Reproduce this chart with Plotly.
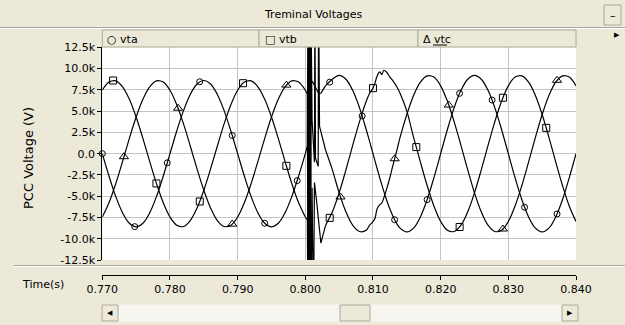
import plotly.graph_objects as go

W, H = 625, 325
X0, X1 = 102.3, 576.0     # plot area (px)
Y0, Y1 = 47.3, 260.0

def fx(x):
    return x / W

def fy(y):
    return 1 - y / H

# ---------------- data (kV) ----------------
t_pre = [0.770, 0.771, 0.772, 0.773, 0.774, 0.775, 0.776, 0.777, 0.778, 0.779,
         0.780, 0.781, 0.782, 0.783, 0.784, 0.785, 0.786, 0.787, 0.788, 0.789,
         0.790, 0.791, 0.792, 0.793, 0.794, 0.795, 0.796, 0.797, 0.798, 0.799, 0.800]
vta_pre = [0.0, -2.66, -5.06, -6.96, -8.18, -8.6, -8.18, -6.96, -5.06, -2.66,
           0.0, 2.66, 5.06, 6.96, 8.18, 8.6, 8.18, 6.96, 5.06, 2.66,
           0.0, -2.66, -5.06, -6.96, -8.18, -8.6, -8.18, -6.96, -5.06, -2.66, 0.0]
vtb_pre = [7.45, 8.41, 8.56, 7.86, 6.39, 4.30, 1.79, -0.90, -3.50, -5.75,
           -7.45, -8.41, -8.56, -7.86, -6.39, -4.30, -1.79, 0.90, 3.50, 5.75,
           7.45, 8.41, 8.56, 7.86, 6.39, 4.30, 1.79, -0.90, -3.50, -5.75, -7.45]
vtc_pre = [-7.45, -5.75, -3.50, -0.90, 1.79, 4.30, 6.39, 7.86, 8.56, 8.41,
           7.45, 5.75, 3.50, 0.90, -1.79, -4.30, -6.39, -7.86, -8.56, -8.41,
           -7.45, -5.75, -3.50, -0.90, 1.79, 4.30, 6.39, 7.86, 8.56, 8.41, 7.45]

t_tr = [0.8000, 0.8003, 0.8004, 0.8005, 0.8006, 0.8007, 0.8008, 0.80088, 0.8010, 0.8012,
        0.80135, 0.80142, 0.8015, 0.8017, 0.8019, 0.80196, 0.8021, 0.8023, 0.8026, 0.8030]
vta_tr = [0.0, 0.9, 20.0, -20.0, 20.0, -20.0, 20.0, 8.6, 8.5, 8.3,
          8.0, 7.9, 7.8, 7.5, 7.2, 7.1, 7.1, 7.1, 7.5, 8.0]
vtb_tr = [-7.45, -7.8, -20.0, 20.0, -20.0, 20.0, -20.0, -14.0, -4.0, -20.0,
          -3.4, -3.8, -4.2, -5.8, -7.4, -7.9, -9.2, -10.5, -9.6, -8.41]
vtc_tr = [7.45, 7.0, -20.0, 20.0, -20.0, 20.0, -20.0, 14.0, 4.0, 0.5,
          -1.0, 20.0, -0.5, -1.0, -1.5, 20.0, 3.2, 2.6, 1.7, 0.4]

t_post = [0.803, 0.804, 0.805, 0.806, 0.807, 0.808, 0.809, 0.8095, 0.8100, 0.8103,
          0.8106, 0.8110, 0.8113, 0.8116, 0.8120, 0.8125, 0.8130, 0.8135, 0.814, 0.815,
          0.816, 0.817, 0.818, 0.819, 0.820, 0.821, 0.822, 0.823, 0.824, 0.825,
          0.826, 0.827, 0.828, 0.829, 0.830, 0.831, 0.832, 0.833, 0.834, 0.835,
          0.836, 0.837, 0.838, 0.839, 0.840]
vta_post = [8.0, 8.75, 9.2, 8.75, 7.44, 5.41, 2.84, 1.44, 0.0, -0.87,
            -1.72, -2.84, -3.65, -4.43, -5.41, -6.51, -7.44, -8.20, -8.75, -9.2,
            -8.75, -7.44, -5.41, -2.84, 0.0, 2.84, 5.41, 7.44, 8.75, 9.2,
            8.75, 7.44, 5.41, 2.84, 0.0, -2.84, -5.41, -7.44, -8.75, -9.2,
            -8.75, -7.44, -5.41, -2.84, 0.0]
vtb_post = [-8.41, -6.84, -4.60, -1.91, 0.97, 3.74, 6.15, 7.1, 7.7, 8.3,
            9.1, 9.6, 9.3, 9.8, 9.6, 9.0, 8.5, 7.9, 7.1, 5.0,
            1.91, -0.97, -3.74, -6.15, -7.97, -9.00, -9.15, -8.41, -6.84, -4.60,
            -1.91, 0.97, 3.74, 6.15, 7.97, 9.00, 9.15, 8.41, 6.84, 4.60,
            1.91, -0.97, -3.74, -6.15, -7.97]
vtc_post = [0.4, -1.91, -4.60, -6.84, -8.41, -9.15, -9.00, -8.4, -8.0, -7.6,
            -6.5, -6.0, -5.8, -5.2, -4.2, -2.8, -1.2, 0.3, 1.91, 4.60,
            6.84, 8.41, 9.15, 9.00, 7.97, 6.15, 3.74, 0.97, -1.91, -4.60,
            -6.84, -8.41, -9.15, -9.00, -7.97, -6.15, -3.74, -0.97, 1.91, 4.60,
            6.84, 8.41, 9.15, 9.00, 7.97]

# marker positions
mk_a_t = [0.770, 0.7748, 0.7796, 0.7844, 0.7892, 0.7940, 0.7988, 0.8036, 0.8084,
          0.8132, 0.8180, 0.8228, 0.8276, 0.8324, 0.8372]
mk_a_v = [0.0, -8.58, -1.08, 8.45, 2.14, -8.18, -3.17, 8.4, 4.43,
          -7.77, -5.41, 7.09, 6.30, -6.30, -7.09]
mk_b_t = [0.7716, 0.7780, 0.7844, 0.7908, 0.7972, 0.8036, 0.8100, 0.8164, 0.8228,
          0.8292, 0.8356]
mk_b_v = [8.6, -3.50, -5.62, 8.28, -1.43, -7.55, 7.7, 0.77, -8.62, 6.57, 3.03]
mk_c_t = [0.7732, 0.7812, 0.7892, 0.7972, 0.8052, 0.8132, 0.8212, 0.8292, 0.8372]
mk_c_v = [-0.36, 5.34, -8.28, 8.06, -5.09, -0.6, 5.71, -8.86, 8.62]

time_ticks = [0.770, 0.780, 0.790, 0.800, 0.810, 0.820, 0.830, 0.840]
time_labels = ["0.770", "0.780", "0.790", "0.800", "0.810", "0.820", "0.830", "0.840"]
v_ticks = [12.5, 10.0, 7.5, 5.0, 2.5, 0.0, -2.5, -5.0, -7.5, -10.0, -12.5]
v_labels = ["12.5k", "10.0k", "7.5k", "5.0k", "2.5k", "0.0", "-2.5k", "-5.0k",
            "-7.5k", "-10.0k", "-12.5k"]

series = [
    ("vta", vta_pre, vta_tr, vta_post, mk_a_t, mk_a_v, "circle-open", 6),
    ("vtb", vtb_pre, vtb_tr, vtb_post, mk_b_t, mk_b_v, "square-open", 7),
    ("vtc", vtc_pre, vtc_tr, vtc_post, mk_c_t, mk_c_v, "triangle-up-open", 8),
]

LINE = dict(color="black", width=1.2)
fig = go.Figure()
for name, pre, tr, post, mt, mv, sym, sz in series:
    fig.add_trace(go.Scatter(x=t_pre, y=pre, mode="lines", line=dict(LINE, shape="spline"),
                             name=name, hoverinfo="skip"))
    fig.add_trace(go.Scatter(x=t_tr, y=tr, mode="lines", line=dict(LINE, shape="linear"),
                             name=name, hoverinfo="skip"))
    fig.add_trace(go.Scatter(x=t_post, y=post, mode="lines", line=dict(LINE, shape="spline"),
                             name=name, hoverinfo="skip"))
    fig.add_trace(go.Scatter(x=mt, y=mv, mode="markers", cliponaxis=False,
                             marker=dict(symbol=sym, size=sz, color="black",
                                         line=dict(color="black", width=1)),
                             name=name, hoverinfo="skip"))

# carrier trace for the separate time axis
fig.add_trace(go.Scatter(x=[time_ticks[0], time_ticks[-1]], y=[0, 0], mode="lines",
                         line=dict(width=0), xaxis="x2", yaxis="y", hoverinfo="skip"))

GRID = "#C4C4C4"
BG = "#ECE9D8"
EDGE = "#ACA899"
FONT = "DejaVu Sans"

fig.update_layout(
    width=W, height=H, autosize=False,
    margin=dict(l=0, r=0, t=0, b=0, autoexpand=False),
    paper_bgcolor=BG, plot_bgcolor="white", showlegend=False,
    font=dict(family=FONT, size=11, color="black"),
    xaxis=dict(domain=[fx(X0), fx(X1)], range=[0.770, 0.840], tickvals=time_ticks,
               showticklabels=False, ticks="", showgrid=True, gridcolor=GRID, gridwidth=1,
               zeroline=False, showline=False, anchor="y", automargin=False),
    xaxis2=dict(overlaying="x", anchor="free", position=fy(275), side="bottom",
                range=[0.770, 0.840], tickvals=time_ticks, ticktext=time_labels,
                ticks="outside", ticklen=4, tickcolor="black", showline=True,
                linecolor="black", linewidth=1, showgrid=False, zeroline=False,
                automargin=False,
                tickfont=dict(family=FONT, size=11, color="black")),
    yaxis=dict(domain=[fy(Y1), fy(Y0)], range=[-12.5, 12.5], tickvals=v_ticks,
               ticktext=v_labels, ticks="outside", ticklen=4, tickcolor="black",
               showline=True, linecolor="black", linewidth=1, showgrid=True,
               gridcolor=GRID, gridwidth=1, zeroline=False, automargin=False,
               tickfont=dict(family=FONT, size=11, color="black")),
)

shapes = []

def rect(x0, y0, x1, y1, fill, line=None, lw=1):
    shapes.append(dict(type="rect", xref="paper", yref="paper",
                       x0=fx(x0), x1=fx(x1), y0=fy(y1), y1=fy(y0),
                       fillcolor=fill, line=dict(color=line or fill, width=lw if line else 0),
                       layer="above"))

def hline(x0, x1, y, color, lw=1):
    shapes.append(dict(type="line", xref="paper", yref="paper",
                       x0=fx(x0), x1=fx(x1), y0=fy(y), y1=fy(y),
                       line=dict(color=color, width=lw), layer="above"))

# title bar border
hline(0, W, 27.5, EDGE)
hline(0, W, 28.5, "white")
# minimise button
rect(604, 5, 621, 25, BG, EDGE)
# legend header cells
rect(X0, 30, 259, 47, BG, EDGE)
rect(259, 30, 418, 47, BG, EDGE)
rect(418, 30, X1, 47, BG, EDGE)
hline(433, 447, 45, "black")
# separator between plot and time axis
hline(14, W, 265.5, EDGE)
hline(14, W, 266.5, "white")
# scrollbar
rect(102, 305, 578, 321, "#F6F5EF", "#F6F5EF")
rect(102, 305, 118, 321, BG, EDGE)
rect(562, 305, 578, 321, BG, EDGE)
rect(340, 305, 370, 321, BG, EDGE)

fig.update_layout(shapes=shapes)

ann = []

def text(x, y, s, size=11, xanchor="center", angle=0):
    ann.append(dict(xref="paper", yref="paper", x=fx(x), y=fy(y), text=s,
                    showarrow=False, xanchor=xanchor, yanchor="middle", textangle=angle,
                    font=dict(family=FONT, size=size, color="black")))

text(313, 14, "Treminal Voltages")
text(612.5, 15, "–", size=11)
text(105, 39, "○ vta", xanchor="left")
text(263, 39, "□ vtb", xanchor="left")
text(421, 39, "Δ vtc", xanchor="left")
text(617, 35, "▶", size=7)
text(28, 158, "PCC Voltage (V)", size=13, angle=-90)
text(43, 284, "Time(s)")
text(110, 313, "◀", size=7)
text(570, 313, "▶", size=7)

fig.update_layout(annotations=ann)

fig.write_html("out.html", config={"displayModeBar": False, "staticPlot": True},
               post_script="document.body.style.margin='0';document.body.style.overflow='hidden';")
